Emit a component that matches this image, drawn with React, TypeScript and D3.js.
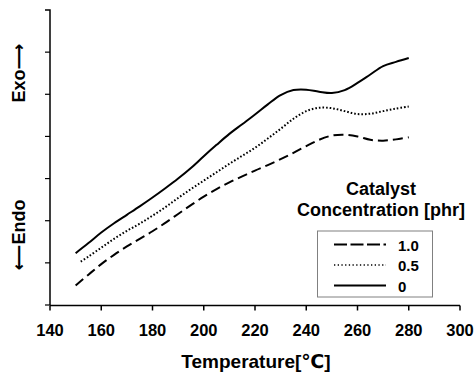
import React from 'react';
import * as d3 from 'd3';

// Catalyst concentration 0 phr (solid)
const temps0 = [150,155,160,165,170,175,180,185,190,195,200,205,210,215,220,225,230,235,240,245,250,255,260,265,270,275,280];
const values0 = [1.23,1.47,1.72,1.94,2.14,2.34,2.55,2.77,3.0,3.25,3.53,3.8,4.06,4.29,4.52,4.76,4.98,5.1,5.11,5.06,5.03,5.1,5.27,5.47,5.67,5.77,5.86];
// 0.5 phr (dotted)
const temps05 = [152,155,160,165,170,175,180,185,190,195,200,205,210,215,220,225,230,235,240,245,250,255,260,265,270,275,280];
const values05 = [1.03,1.15,1.36,1.57,1.76,1.93,2.12,2.32,2.54,2.75,2.95,3.15,3.35,3.54,3.73,3.95,4.18,4.42,4.6,4.68,4.67,4.6,4.53,4.54,4.6,4.66,4.71];
// 1.0 phr (dashed)
const temps10 = [150,155,160,165,170,175,180,185,190,195,200,205,210,215,220,225,230,235,240,245,250,255,260,265,270,275,280];
const values10 = [0.46,0.72,0.97,1.19,1.39,1.57,1.75,1.95,2.16,2.37,2.57,2.75,2.91,3.05,3.19,3.32,3.46,3.61,3.77,3.92,4.02,4.04,4.0,3.92,3.9,3.93,3.98];

const xTicks = [140,160,180,200,220,240,260,280,300];
const yTicks = [0,1,2,3,4,5,6];
const legendLabels = ['1.0','0.5','0'];
const legendTitle = ['Catalyst','Concentration [phr]'];

const FONT = "Arial, 'Liberation Sans', 'DejaVu Sans', 'Noto Sans CJK SC', sans-serif";

export default function App() {
  const x = d3.scaleLinear().domain([140, 300]).range([50, 460]);
  const y = d3.scaleLinear().domain([0, 7]).range([305, 10]);
  const line = d3.line<[number, number]>()
    .x(d => x(d[0]))
    .y(d => y(d[1]))
    .curve(d3.curveCatmullRom.alpha(0.5));

  const series = [
    { t: temps10, v: values10, dash: '10,5', legendDash: '13,3.5', lw: 2 },
    { t: temps05, v: values05, dash: '1.6,2', legendDash: '1.3,2.4', lw: 2 },
    { t: temps0, v: values0, dash: undefined, legendDash: undefined, lw: 2 },
  ];

  const legendRows = [244.5, 265, 285.5];

  return (
    <svg width={475} height={373} style={{ position: 'absolute', left: 0, top: 0, background: '#fff' }} fontFamily={FONT}>
      <rect x={0} y={0} width={475} height={373} fill="#fff" />
      {/* y axis */}
      <path d={`M45,${y(7)}H50V${y(0)}`} fill="none" stroke="#000" strokeWidth={1.5} />
      {yTicks.map(t => (
        <line key={'yt' + t} x1={45} x2={50} y1={y(t)} y2={y(t)} stroke="#000" strokeWidth={1.2} />
      ))}
      {/* x axis */}
      <line x1={x(140)} x2={x(300)} y1={305.5} y2={305.5} stroke="#000" strokeWidth={1.5} />
      {xTicks.map(t => (
        <g key={'xt' + t}>
          <line x1={x(t)} x2={x(t)} y1={305.5} y2={310.5} stroke="#000" strokeWidth={1.5} />
          <text x={x(t)} y={335.5} textAnchor="middle" fontSize={16.5} fontWeight="bold">{t}</text>
        </g>
      ))}
      <text x={256} y={368} textAnchor="middle" fontSize={19} fontWeight="bold">Temperature[℃]</text>
      <text transform="translate(25,73) rotate(-90)" textAnchor="middle" fontSize={18} fontWeight="bold">Exo⟶</text>
      <text transform="translate(25,235) rotate(-90)" textAnchor="middle" fontSize={18} fontWeight="bold">⟵Endo</text>

      {/* curves */}
      {series.map((s, i) => (
        <path key={'s' + i}
          d={line(s.t.map((t, j) => [t, s.v[j]] as [number, number])) || ''}
          fill="none" stroke="#000" strokeWidth={s.lw}
          strokeDasharray={s.dash} />
      ))}

      {/* legend */}
      <text x={381} y={195} textAnchor="middle" fontSize={18} fontWeight="bold">{legendTitle[0]}</text>
      <text x={381} y={216} textAnchor="middle" fontSize={18} fontWeight="bold">{legendTitle[1]}</text>
      <rect x={317.5} y={231} width={115} height={66} fill="#fff" stroke="#808080" strokeWidth={1} />
      {series.map((s, i) => (
        <g key={'lg' + i}>
          <line x1={334} x2={386} y1={legendRows[i]} y2={legendRows[i]} stroke="#000"
            strokeWidth={i === 1 ? 1.3 : 2} strokeDasharray={s.legendDash} />
          <text x={398} y={legendRows[i] + 6} fontSize={15} fontWeight="bold">{legendLabels[i]}</text>
        </g>
      ))}
    </svg>
  );
}
